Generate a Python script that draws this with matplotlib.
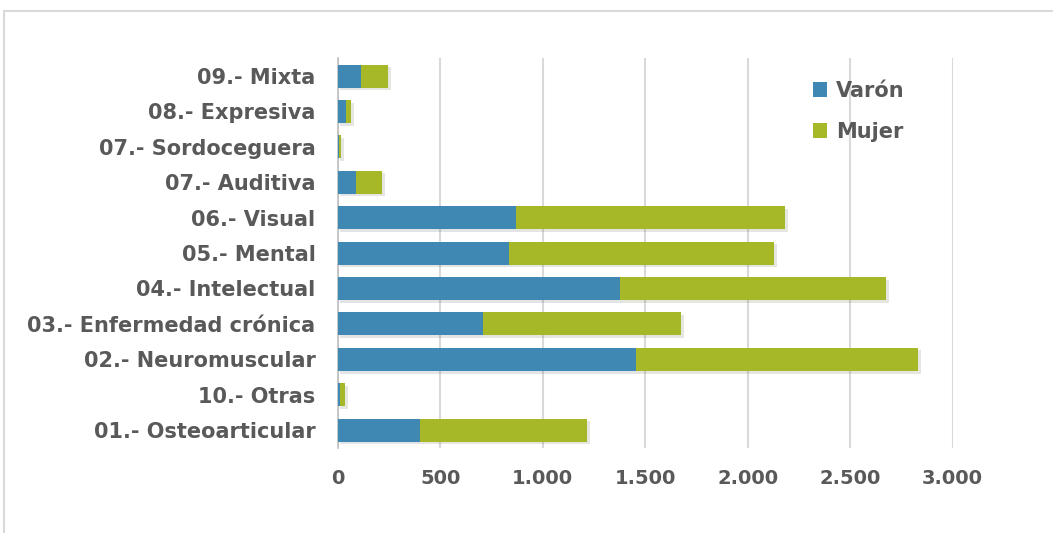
import matplotlib
matplotlib.use("Agg")
from matplotlib import pyplot as plt, ticker, patches, patheffects

categorias = ["01.- Osteoarticular", "10.- Otras", "02.- Neuromuscular",
              "03.- Enfermedad crónica", "04.- Intelectual", "05.- Mental",
              "06.- Visual", "07.- Auditiva", "07.- Sordoceguera",
              "08.- Expresiva", "09.- Mixta"]
varon = [401, 13, 1455, 707, 1379, 834, 871, 91, 8, 42, 113]
mujer = [814, 23, 1377, 968, 1297, 1296, 1311, 124, 9, 24, 132]

azul = "#3f88b4"
verde = "#a6b728"
gris = "#595959"

plt.rcParams["font.family"] = ["DejaVu Sans"]
plt.rcParams["font.weight"] = "bold"

fig = plt.figure(figsize=(10.53, 5.33), dpi=100)
ax = fig.add_axes([0.3207, 0.160, 0.584, 0.7306])

# marco exterior del grafico
fig.patches.append(patches.Rectangle((4 / 1053, -0.05), 1.1, 1 - 11 / 533 + 0.05,
                                     transform=fig.transFigure, fill=False,
                                     edgecolor="#d9d9d9", linewidth=1.5))

sombra = [patheffects.SimplePatchShadow(offset=(2, -2), alpha=0.12), patheffects.Normal()]
y = range(len(categorias))
b1 = ax.barh(y, varon, height=0.65, color=azul, label="Varón", zorder=3)
b2 = ax.barh(y, mujer, left=varon, height=0.65, color=verde, label="Mujer", zorder=3)
for b in list(b1) + list(b2):
    b.set_path_effects(sombra)

ax.set_xlim(0, 3000)
ax.set_ylim(-0.5, len(categorias) - 0.5)
ax.set_yticks(list(y))
ax.set_yticklabels(categorias)
ax.xaxis.set_major_locator(ticker.MultipleLocator(500))
ax.xaxis.set_major_formatter(ticker.FuncFormatter(lambda v, p: f"{int(v):,}".replace(",", ".")))
ax.tick_params(axis="y", length=0, pad=16, labelsize=15, labelcolor=gris)
ax.tick_params(axis="x", length=0, pad=15, labelsize=14, labelcolor=gris)
ax.grid(axis="x", color="#d9d9d9", linewidth=1.5, zorder=0)
for s in ["top", "right", "bottom"]:
    ax.spines[s].set_visible(False)
ax.spines["left"].set_color("#bfbfbf")
ax.spines["left"].set_linewidth(1.2)

leg = ax.legend(loc="upper left", bbox_to_anchor=(794 / 1053, 1 - 62 / 533),
                bbox_transform=fig.transFigure, frameon=False, fontsize=15,
                handlelength=0.7, handleheight=0.7, handletextpad=0.4,
                labelspacing=1.0, labelcolor=gris)
for h in leg.legend_handles:
    h.set_path_effects([])

plt.savefig("out.png")
